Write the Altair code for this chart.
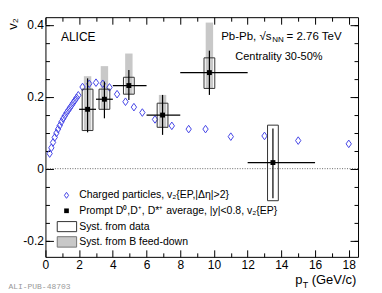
import altair as alt
import pandas as pd

# ---------------- data ----------------
# charged particles v2{EP,|d eta|>2}
ch_pt = [0.25, 0.35, 0.45, 0.55, 0.65, 0.75, 0.85, 0.95, 1.05, 1.15, 1.25, 1.35,
         1.45, 1.55, 1.65, 1.75, 1.85, 1.95, 2.2, 2.6, 3.0, 3.4, 3.8, 4.25, 4.75,
         5.25, 5.75, 6.5, 7.5, 8.5, 9.5, 11.0, 13.0, 15.0, 18.0]
ch_v2 = [0.042, 0.058, 0.073, 0.087, 0.099, 0.110, 0.120, 0.130, 0.139, 0.147,
         0.155, 0.162, 0.169, 0.176, 0.183, 0.190, 0.197, 0.204, 0.227, 0.236,
         0.239, 0.236, 0.226, 0.207, 0.186, 0.171, 0.156, 0.137, 0.119, 0.110,
         0.110, 0.089, 0.091, 0.078, 0.069]

# prompt D mesons
d_pt = [2.5, 3.5, 4.95, 6.95, 9.73, 13.5]
d_bin_lo = [2, 3, 4, 6, 8, 12]
d_bin_hi = [3, 4, 6, 8, 12, 16]
d_v2 = [0.165, 0.193, 0.231, 0.149, 0.267, 0.017]
d_stat_lo = [0.101, 0.140, 0.191, 0.094, 0.205, -0.082]
d_stat_hi = [0.251, 0.242, 0.274, 0.205, 0.328, 0.112]
d_syst_lo = [0.106, 0.165, 0.207, 0.115, 0.223, -0.089]
d_syst_hi = [0.221, 0.221, 0.254, 0.182, 0.308, 0.121]
d_fd_lo = [0.106, 0.165, 0.207, 0.115, 0.223, 0.017]
d_fd_hi = [0.257, 0.285, 0.320, 0.205, 0.406, 0.017]

x_major = [0, 2, 4, 6, 8, 10, 12, 14, 16, 18]
x_minor = [1, 3, 5, 7, 9, 11, 13, 15, 17]
y_major = [-0.2, 0.0, 0.2, 0.4]
y_minor = [-0.2, -0.15, -0.1, -0.05, 0.0, 0.05, 0.1, 0.15, 0.2, 0.25, 0.3, 0.35, 0.4]

XDOM = [0, 18.55]
YDOM = [-0.245, 0.421]

BLUE = "#4646e6"
FONT = "Liberation Sans"
DIAMOND = "M0,-1L0.7,0L0,1L-0.7,0Z"

ch = pd.DataFrame({"pt": ch_pt, "v2": ch_v2})
dd = pd.DataFrame({"pt": d_pt, "blo": d_bin_lo, "bhi": d_bin_hi, "v2": d_v2,
                   "slo": d_stat_lo, "shi": d_stat_hi, "ylo": d_syst_lo,
                   "yhi": d_syst_hi, "flo": d_fd_lo, "fhi": d_fd_hi})

xs = alt.Scale(domain=XDOM, nice=False, zero=False)
ys = alt.Scale(domain=YDOM, nice=False, zero=False)


def tick_axis(orient, values, size):
    return alt.Axis(orient=orient, values=values, labels=False, domain=False,
                    grid=False, ticks=True, tickSize=size, offset=-size,
                    tickColor="black", tickWidth=1, title=None)


x_lab_axis = alt.Axis(orient="bottom", values=x_major, ticks=False, domain=False,
                      grid=False, labelFontSize=12, labelFont=FONT, labelColor="black",
                      labelPadding=3, labelFlush=False, labelOverlap=False, title=None)
y_lab_axis = alt.Axis(orient="left", values=y_major, ticks=False, domain=False,
                      grid=False, labelFontSize=12, labelFont=FONT, labelColor="black",
                      labelPadding=2, labelFlush=False, labelOverlap=False, title=None,
                      labelExpr="datum.value == 0 ? '0' : (datum.value < 0 ? '-' + format(-datum.value, '.1f') : format(datum.value, '.1f'))")


def X(field, axis=None):
    return alt.X(field, type="quantitative", scale=xs, axis=axis)


def Y(field, axis=None):
    return alt.Y(field, type="quantitative", scale=ys, axis=axis)


zero_line = alt.Chart(pd.DataFrame({"y": [0.0]})).mark_rule(
    color="#666", strokeDash=[1, 1.5], strokeWidth=1).encode(
    y=Y("y", tick_axis("left", y_minor, 4)))

gray = alt.Chart(dd).transform_calculate(
    a="datum.pt - 0.22", b="datum.pt + 0.22").mark_rect(color="#c8c8c8").encode(
    x=X("a:Q", tick_axis("bottom", x_major, 7)), x2="b:Q",
    y=Y("flo:Q", tick_axis("left", y_major, 8)), y2="fhi:Q")

diamonds = alt.Chart(ch).mark_point(shape=DIAMOND, filled=False, color=BLUE,
                                    size=58, strokeWidth=1, opacity=1).encode(
    x=X("pt:Q", x_lab_axis), y=Y("v2:Q", y_lab_axis))

boxes = alt.Chart(dd).transform_calculate(
    a="datum.pt - 0.32", b="datum.pt + 0.32").mark_rect(
    fillOpacity=0, stroke="#333", strokeWidth=1).encode(
    x=X("a:Q", tick_axis("bottom", x_minor, 4)), x2="b:Q",
    y=Y("ylo:Q", tick_axis("right", y_major, 8)), y2="yhi:Q")

verr = alt.Chart(dd).mark_rule(color="black", strokeWidth=1.2).encode(
    x=X("pt:Q", tick_axis("top", x_major, 7)),
    y=Y("slo:Q", tick_axis("right", y_minor, 4)), y2="shi:Q")

herr = alt.Chart(dd).mark_rule(color="black", strokeWidth=1.2).encode(
    x=X("blo:Q", tick_axis("top", x_minor, 4)), x2="bhi:Q", y=Y("v2:Q"))

squares = alt.Chart(dd).mark_point(shape="square", filled=True, color="black",
                                   size=24, opacity=1).encode(
    x=X("pt:Q"), y=Y("v2:Q"))

# ---------------- annotations ----------------
def texts(df, **kw):
    return alt.Chart(df).mark_text(font=FONT, color="black", align="left",
                                   baseline="middle", **kw).encode(
        x=X("x:Q"), y=Y("y:Q"), text="t:N")


alice = texts(pd.DataFrame({"x": [0.92], "y": [0.367], "t": ["ALICE"]}), fontSize=12)
pbpb = texts(pd.DataFrame({"x": [10.43], "y": [0.367], "t": ["Pb-Pb, √s"]}), fontSize=11.5)
nn = texts(pd.DataFrame({"x": [10.43], "y": [0.367], "t": ["NN"]}), fontSize=8, dx=51, dy=3)
tev = texts(pd.DataFrame({"x": [10.43], "y": [0.367], "t": [" = 2.76 TeV"]}), fontSize=11.5, dx=65.5)
cent = texts(pd.DataFrame({"x": [11.27], "y": [0.309], "t": ["Centrality 30-50%"]}), fontSize=11)

leg_text = ["Charged particles, v₂{EP,|Δη|>2}",
            "Prompt D⁰,D⁺, D*⁺ average, |y|<0.8, v₂{EP}",
            "Syst. from data",
            "Syst. from B feed-down"]
leg_y = [-0.074, -0.117, -0.161, -0.203]
leg_txt = texts(pd.DataFrame({"x": [2.0] * 4, "y": leg_y, "t": leg_text}), fontSize=10.5)

leg_dia = alt.Chart(pd.DataFrame({"x": [1.25], "y": [leg_y[0]]})).mark_point(
    shape=DIAMOND, filled=False, color=BLUE, size=36, strokeWidth=1, opacity=1).encode(
    x=X("x:Q"), y=Y("y:Q"))
leg_sq = alt.Chart(pd.DataFrame({"x": [1.25], "y": [leg_y[1]]})).mark_point(
    shape="square", filled=True, color="black", size=22, opacity=1).encode(
    x=X("x:Q"), y=Y("y:Q"))
leg_box = alt.Chart(pd.DataFrame({"x": [0.70], "x2": [1.85], "y": [-0.147], "y2": [-0.175]})).mark_rect(
    fill="white", stroke="#333", strokeWidth=1).encode(
    x=X("x:Q"), x2="x2:Q", y=Y("y:Q"), y2="y2:Q")
leg_gray = alt.Chart(pd.DataFrame({"x": [0.70], "x2": [1.85], "y": [-0.189], "y2": [-0.218]})).mark_rect(
    fill="#c8c8c8", stroke="#777", strokeWidth=1).encode(
    x=X("x:Q"), x2="x2:Q", y=Y("y:Q"), y2="y2:Q")

# axis titles drawn as text
ytitle = alt.Chart(pd.DataFrame({"x": [-1.92], "y": [0.418], "t": ["v₂"]})).mark_text(
    font=FONT, fontSize=13, color="black", angle=270, align="right", baseline="middle").encode(
    x=X("x:Q"), y=Y("y:Q"), text="t:N")
xt_p = texts(pd.DataFrame({"x": [14.82], "y": [-0.309], "t": ["p"]}), fontSize=13)
xt_T = texts(pd.DataFrame({"x": [14.82], "y": [-0.309], "t": ["T"]}), fontSize=9, dx=7.6, dy=5)
xt_u = texts(pd.DataFrame({"x": [14.82], "y": [-0.309], "t": ["(GeV/c)"]}), fontSize=13, dx=16.5)

wm = alt.Chart(pd.DataFrame({"x": [-2.2], "y": [-0.3286], "t": ["ALI-PUB-48703"]})).mark_text(
    font="Liberation Mono", fontSize=8, color="#999", align="left", baseline="middle").encode(
    x=X("x:Q"), y=Y("y:Q"), text="t:N")

chart = alt.layer(
    zero_line, gray, diamonds, boxes, verr, herr, squares,
    alice, pbpb, nn, tev, cent,
    leg_dia, leg_sq, leg_box, leg_gray, leg_txt,
    ytitle, xt_p, xt_T, xt_u, wm,
).resolve_axis(x="independent", y="independent").properties(
    width=313, height=240,
    padding={"left": 37.5, "top": 9, "right": 16, "bottom": 36},
    autosize=alt.AutoSizeParams(type="none"),
    background="white",
).configure_view(stroke="black", strokeWidth=1)

chart.save("out.html", embed_options={"renderer": "svg", "actions": False})
